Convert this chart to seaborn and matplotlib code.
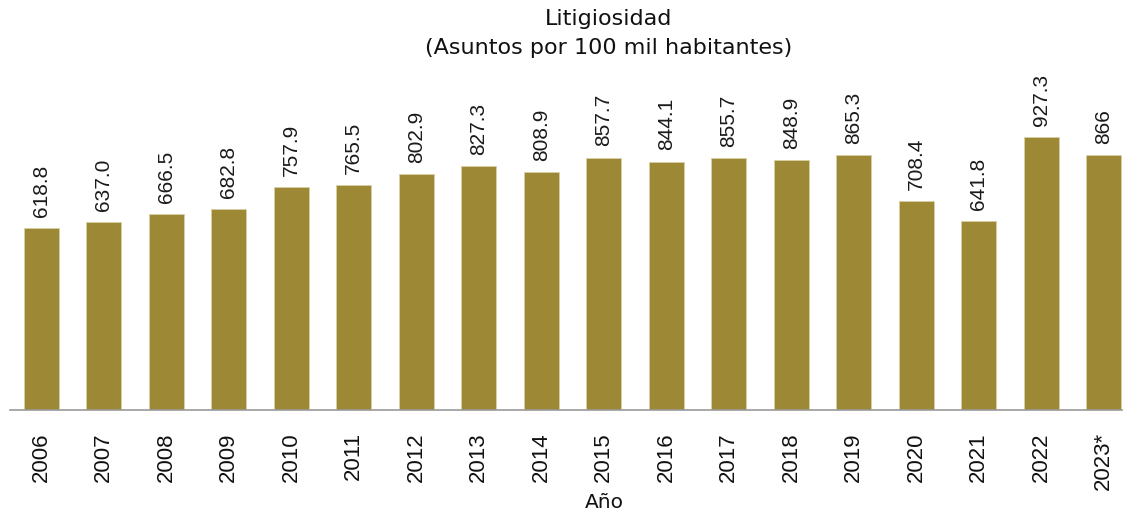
import matplotlib
matplotlib.use("Agg")
import matplotlib.pyplot as plt
import seaborn as sns
import pandas as pd

years = ["2006", "2007", "2008", "2009", "2010", "2011", "2012", "2013", "2014",
         "2015", "2016", "2017", "2018", "2019", "2020", "2021", "2022", "2023*"]
values = [618.8, 637.0, 666.5, 682.8, 757.9, 765.5, 802.9, 827.3, 808.9,
          857.7, 844.1, 855.7, 848.9, 865.3, 708.4, 641.8, 927.3, 866]
value_labels = ["618.8", "637.0", "666.5", "682.8", "757.9", "765.5", "802.9", "827.3", "808.9",
                "857.7", "844.1", "855.7", "848.9", "865.3", "708.4", "641.8", "927.3", "866"]

df = pd.DataFrame({"Año": years, "Valor": values})

sns.set_theme(style="white")
plt.rcParams['font.family'] = ['Liberation Sans', 'DejaVu Sans']

fig = plt.figure(figsize=(11.24, 5.15), dpi=100)
ax = fig.add_axes([10/1124, 1 - 410/515, 1112/1124, 340/515])

sns.barplot(data=df, x="Año", y="Valor", color="#9D8935", width=0.56,
            saturation=1, edgecolor="#d9d0a6", linewidth=0.6, ax=ax)

ax.set_ylim(0, 1155)
ax.set_xlim(-0.5, 17.29)
for i, (v, lab) in enumerate(zip(values, value_labels)):
    ax.annotate(lab, (i, v), xytext=(0, 8), textcoords="offset points",
                rotation=90, ha="center", va="bottom", fontsize=15, color="#1a1a1a")

ax.set_yticks([])
ax.set_ylabel("")
ax.set_xlabel("")
ax.tick_params(axis="x", length=0, pad=16, labelsize=16, labelcolor="#111111")
for lab in ax.get_xticklabels():
    lab.set_rotation(90)
for s in ["top", "right", "left"]:
    ax.spines[s].set_visible(False)
ax.spines["bottom"].set_color("#9a9a9a")
ax.spines["bottom"].set_linewidth(1.2)

fig.text(609/1124, 1 - 19/515, "Litigiosidad", ha="center", va="center",
         fontsize=16, family="DejaVu Sans", color="#111111")
fig.text(609/1124, 1 - 48/515, "(Asuntos por 100 mil habitantes)", ha="center", va="center",
         fontsize=16, family="DejaVu Sans", color="#111111")
fig.text(604/1124, 1 - 503/515, "Año", ha="center", va="center",
         fontsize=14.5, family="DejaVu Sans", color="#111111")

fig.savefig("out.png", dpi=100)
